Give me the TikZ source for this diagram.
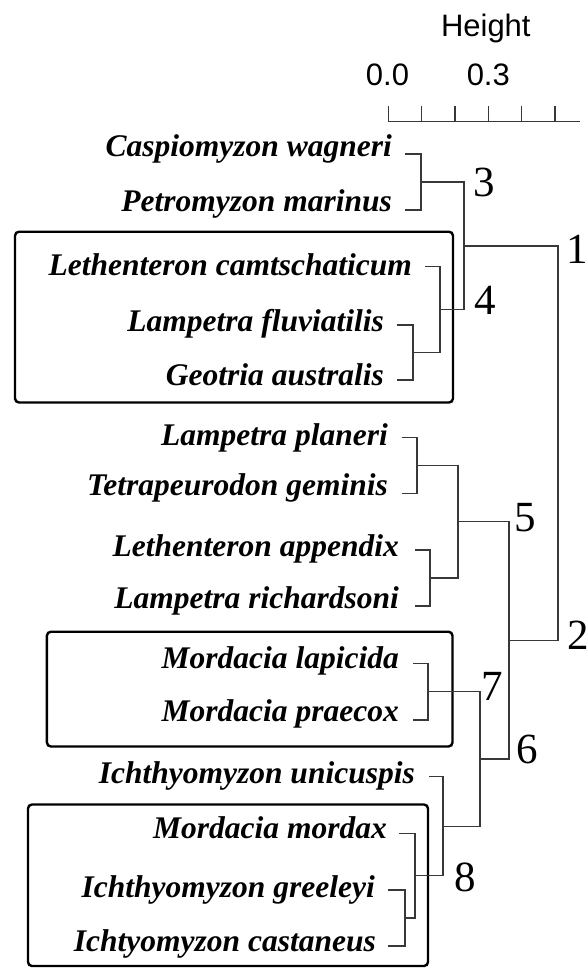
\documentclass[tikz,border=0pt]{standalone}
\usepackage{fontspec}
\setmainfont{Liberation Serif}
\newfontfamily\axisfont{Liberation Sans}
\begin{document}
\begin{tikzpicture}[x=1pt,y=-1pt,
  sp/.style={font=\fontsize{31.5}{32}\selectfont\bfseries\itshape, inner sep=0pt, anchor=base east},
  num/.style={font=\fontsize{43}{44}\selectfont, inner sep=0pt, anchor=west},
  ax/.style={font=\axisfont\fontsize{31}{32}\selectfont, inner sep=0pt, anchor=base},
  br/.style={draw=black!78, line width=1.4pt},
  grp/.style={draw=black, line width=2.4pt, rounded corners=4pt}]
\useasboundingbox (0,0) rectangle (588,969);

% axis
\node[ax] (hgt) at (485.8,36) {Height};
\node[ax] (a00) at (387.5,85) {0.0};
\node[ax] (a03) at (488.3,85) {0.3};
\coordinate (axs) at (388.3,121.7);
\coordinate (axe) at (580,121.7);
\draw[br] (axs) -- (axe);
\foreach \k in {0,...,5} {
  \draw[br] ([xshift=\k*33.33pt]axs) -- ++(0,-15.7);
}

% group boxes
\draw[grp] (15,231.7) rectangle (453,402.5);
\draw[grp] (46.9,631.7) rectangle (452.5,746.5);
\draw[grp] (28,804.5) rectangle (428,966);

% leaf ends
\coordinate (cw) at (405,154);
\coordinate (pm) at (405,210);
\coordinate (lc) at (425,266.7);
\coordinate (lf) at (396.7,325);
\coordinate (ga) at (396.7,380);
\coordinate (lp) at (401.7,437.3);
\coordinate (tg) at (401.7,493.3);
\coordinate (la) at (415,550);
\coordinate (lr) at (415,606);
\coordinate (ml) at (413.3,663.3);
\coordinate (mp) at (413.3,720);
\coordinate (iu) at (429.3,776.7);
\coordinate (mm) at (399.3,833.3);
\coordinate (ig) at (388.3,890);
\coordinate (ic) at (388.3,946);

% species names
\node[sp] (tcw) at (392,156.7) {Caspiomyzon wagneri};
\node[sp] (tpm) at (392,211.7) {Petromyzon marinus};
\node[sp] (tlc) at (412,275) {Lethenteron camtschaticum};
\node[sp] (tlf) at (384,331.7) {Lampetra fluviatilis};
\node[sp] (tga) at (384,385) {Geotria australis};
\node[sp] (tlp) at (388,445) {Lampetra planeri};
\node[sp] (ttg) at (388,495) {Tetrapeurodon geminis};
\node[sp] (tla) at (399,556.7) {Lethenteron appendix};
\node[sp] (tlr) at (399,608) {Lampetra richardsoni};
\node[sp] (tml) at (399,668.3) {Mordacia lapicida};
\node[sp] (tmp) at (399,721.7) {Mordacia praecox};
\node[sp] (tiu) at (415,783) {Ichthyomyzon unicuspis};
\node[sp] (tmm) at (387,838) {Mordacia mordax};
\node[sp] (tig) at (375,897) {Ichthyomyzon greeleyi};
\node[sp] (tic) at (376,951) {Ichtyomyzon castaneus};

% internal joins
\coordinate (j3) at (421,182);
\coordinate (jlg) at (413,352.5);
\coordinate (j4) at (440,309.6);
\coordinate (j1) at (464,245.8);
\coordinate (jpt) at (417,465.3);
\coordinate (jar) at (430,578);
\coordinate (j5) at (458,521.7);
\coordinate (jmm) at (428,691.7);
\coordinate (jgc) at (405,918);
\coordinate (j8) at (415,875.7);
\coordinate (jiu) at (443,826.2);
\coordinate (j7) at (480,759);
\coordinate (j6) at (509,640.3);
\coordinate (j0) at (558,443);

\draw[br] (cw) -| (j3) |- (pm);
\draw[br] (lf) -| (jlg) |- (ga);
\draw[br] (lc) -| (j4) |- (jlg);
\draw[br] (j3) -| (j1) |- (j4);
\draw[br] (lp) -| (jpt) |- (tg);
\draw[br] (la) -| (jar) |- (lr);
\draw[br] (jpt) -| (j5) |- (jar);
\draw[br] (ml) -| (jmm) |- (mp);
\draw[br] (ig) -| (jgc) |- (ic);
\draw[br] (mm) -| (j8) |- (jgc);
\draw[br] (iu) -| (jiu) |- (j8);
\draw[br] (jmm) -| (j7) |- (jiu);
\draw[br] (j5) -| (j6) |- (j7);
\draw[br] (j1) -| (j0) |- (j6);

% node numbers
\node[num] (n3) at (473,182.5) {3};
\node[num] (n4) at (474,300) {4};
\node[num] (n1) at (566,249) {1};
\node[num] (n2) at (567,635) {2};
\node[num] (n5) at (514,518) {5};
\node[num] (n6) at (516,749) {6};
\node[num] (n7) at (481,686) {7};
\node[num] (n8) at (454,877) {8};
\end{tikzpicture}
\end{document}
